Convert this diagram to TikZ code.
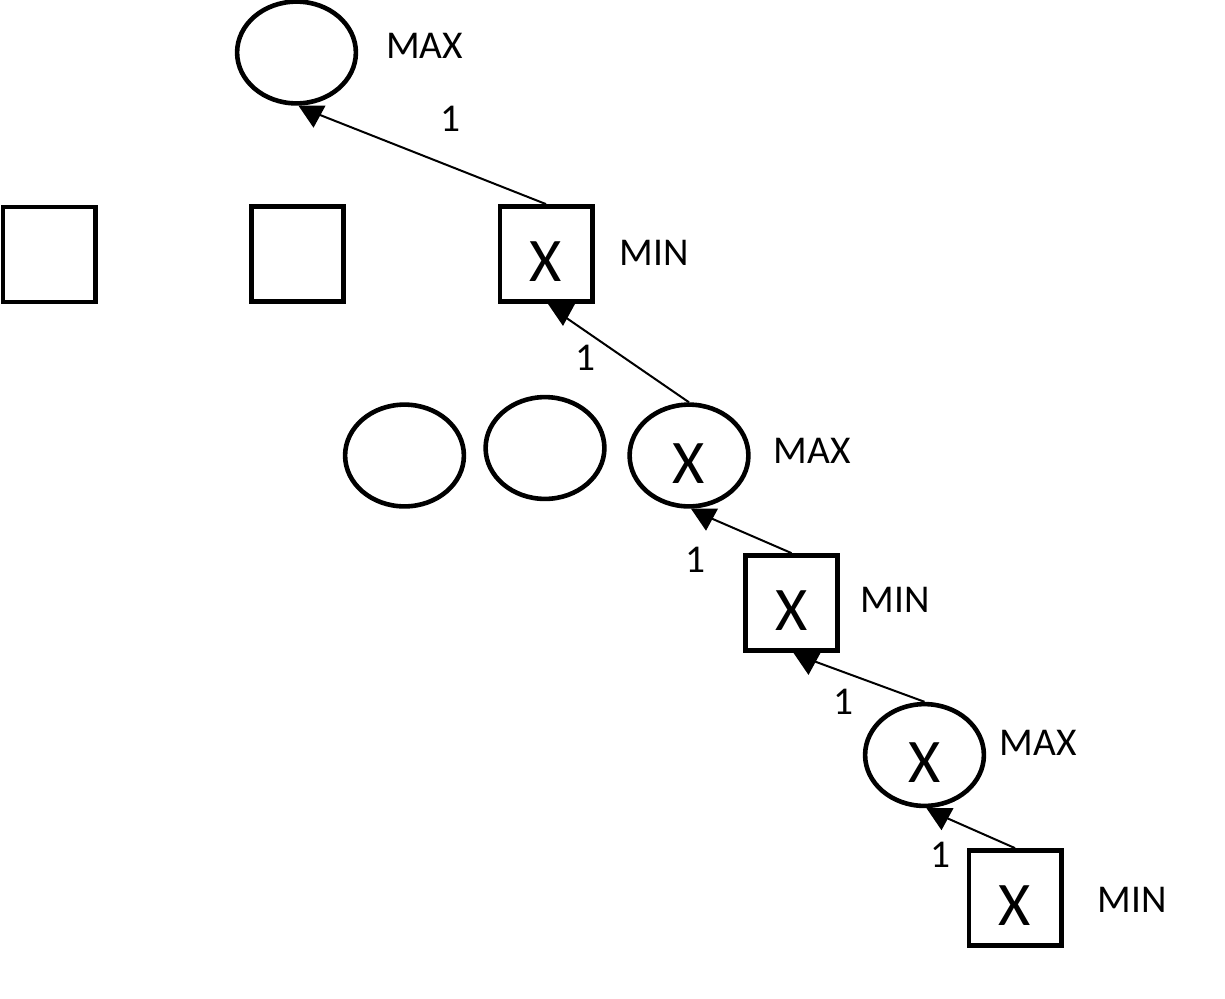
\documentclass[tikz,border=0pt]{standalone}
\usepackage{fontspec}
\setmainfont{Carlito}
\usetikzlibrary{shapes.geometric}
\begin{document}
\begin{tikzpicture}[x=0.5pt,y=-0.5pt,
  shp/.style={draw=black, line width=2.3pt, fill=white, inner sep=0pt,
    font=\fontsize{31}{36}\selectfont, text height=27.5pt, text depth=0pt},
  ell/.style={shp, ellipse, minimum width=59.4pt, minimum height=50.9pt},
  sqr/.style={shp, rectangle, minimum width=46.2pt, minimum height=47.6pt},
  lab/.style={inner sep=0pt, font=\fontsize{19.7}{24}\selectfont},
  conn/.style={draw=black, line width=1pt, shorten >=4pt},
  downtri/.pic={\fill[black] (2,0) -- (29,0) -- (17,22) -- cycle;}
]
\useasboundingbox (0,0) rectangle (1225,998);

% nodes
\node[ell] (e1) at (296.5,52.5) {};
\node[sqr] (sq1) at (49,254.5) {};
\node[sqr] (sq2) at (297.5,254) {};
\node[sqr] (sq3) at (546,254) {X};
\node[ell] (eA) at (404.5,455.5) {};
\node[ell] (eB) at (545,448) {};
\node[ell] (e2) at (689,455.5) {X};
\node[sqr] (sq4) at (791.5,603) {X};
\node[ell] (e3) at (924.5,755) {X};
\node[sqr] (sq5) at (1015,898) {X};

% labels
\node[lab] (max1) at (424.5,45.5) {MAX};
\node[lab] (min1) at (654,252.5) {MIN};
\node[lab] (max2) at (812,451) {MAX};
\node[lab] (min2) at (895,599.5) {MIN};
\node[lab] (max3) at (1038,742.5) {MAX};
\node[lab] (min3) at (1132.5,899.5) {MIN};
\node[lab] (w1) at (450,118.5) {1};
\node[lab] (w2) at (585,357.5) {1};
\node[lab] (w3) at (695,559.5) {1};
\node[lab] (w4) at (843,702) {1};
\node[lab] (w5) at (940,854.5) {1};

% connectors
\draw[conn] (sq3.north) -- (e1.south);
\draw[conn] (e2.north) -- (sq3.south);
\draw[conn] (sq4.north) -- (e2.south);
\draw[conn] (e3.north) -- (sq4.south);
\draw[conn] (sq5.north) -- (e3.south);

% arrowheads
\pic at (e1.south) {downtri};
\pic at (sq3.south) {downtri};
\pic at (e2.south) {downtri};
\pic at (sq4.south) {downtri};
\pic at (e3.south) {downtri};
\end{tikzpicture}
\end{document}
